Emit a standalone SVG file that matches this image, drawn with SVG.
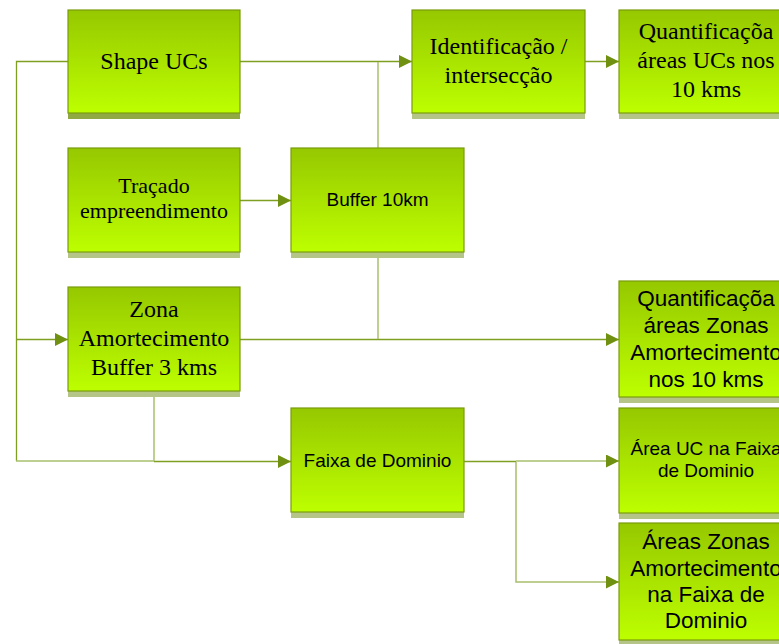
<svg xmlns="http://www.w3.org/2000/svg" width="779" height="644" viewBox="0 0 779 644">
<defs>
<linearGradient id="g" x1="0" y1="0" x2="0" y2="1">
<stop offset="0" stop-color="#96c800"/>
<stop offset="1" stop-color="#bdff00"/>
</linearGradient>
<marker id="ar" viewBox="0 0 13 13" refX="13" refY="6.5" markerWidth="13" markerHeight="13" markerUnits="userSpaceOnUse" orient="auto">
<path d="M0,0 L13,6.5 L0,13 z" fill="#6f9010"/>
</marker>
</defs>
<style>
.box{fill:url(#g);stroke:#7a9c0c;stroke-width:1.2}
.sh{fill:#b4c587}
.shd{fill:#90a942}
.ln{fill:none;stroke:#7f9f22;stroke-width:1.3}
.lt{fill:none;stroke:#a9bf6e;stroke-width:1.5}
.se{font-family:"Liberation Serif","Times New Roman",serif;fill:#000;text-anchor:middle}
.sa{font-family:"Liberation Sans",Arial,sans-serif;fill:#000;text-anchor:middle}
</style>
<rect width="779" height="644" fill="#fff"/>
<g id="connectors">
<path class="ln" d="M68,61.5 H16.5 V461"/>
<path class="lt" d="M16,461 H154"/>
<path class="ln" d="M154,461.5 H291" marker-end="url(#ar)"/>
<path class="ln" d="M16.5,339.5 H68" marker-end="url(#ar)"/>
<path class="ln" d="M240,61.5 H412" marker-end="url(#ar)"/>
<path class="lt" d="M378,148 V62"/>
<path class="ln" d="M585,61.5 H619" marker-end="url(#ar)"/>
<path class="ln" d="M240,200.5 H291" marker-end="url(#ar)"/>
<path class="ln" d="M240,339.5 H619" marker-end="url(#ar)"/>
<path class="lt" d="M378,258 V339"/>
<path class="lt" d="M154,397 V461"/>
<path class="ln" d="M464,461.5 H516"/>
<path class="lt" d="M516,461 H619" marker-end="url(#ar)"/>
<path class="lt" d="M516,462 V582 H619" marker-end="url(#ar)"/>
</g>
<g id="shape-ucs">
<rect class="shd" x="68" y="113" width="172" height="6"/>
<rect class="box" x="68" y="10" width="172" height="103"/>
<text class="se" x="154" y="69" font-size="24">Shape UCs</text>
</g>
<g id="identificacao">
<rect class="sh" x="412" y="113" width="173" height="6"/>
<rect class="box" x="412" y="10" width="173" height="103"/>
<text class="se" x="498.5" y="54" font-size="24">Identificação /</text>
<text class="se" x="498.5" y="83" font-size="24">intersecção</text>
</g>
<g id="quant-ucs">
<rect class="sh" x="619" y="113" width="172" height="6"/>
<rect class="box" x="619" y="10" width="172" height="103"/>
<text class="se" x="706" y="39" font-size="24">Quantificaçõa</text>
<text class="se" x="706" y="68" font-size="24">áreas UCs nos</text>
<text class="se" x="706" y="97" font-size="24">10 kms</text>
</g>
<g id="tracado">
<rect class="sh" x="68" y="252" width="172" height="6"/>
<rect class="box" x="68" y="148" width="172" height="104"/>
<text class="se" x="154" y="193" font-size="22">Traçado</text>
<text class="se" x="154" y="218" font-size="22">empreendimento</text>
</g>
<g id="buffer10">
<rect class="sh" x="291" y="252" width="173" height="6"/>
<rect class="box" x="291" y="148" width="173" height="104"/>
<text class="sa" x="377.5" y="206" font-size="19">Buffer 10km</text>
</g>
<g id="zona">
<rect class="sh" x="68" y="391" width="172" height="6"/>
<rect class="box" x="68" y="287" width="172" height="104"/>
<text class="se" x="154" y="317" font-size="24">Zona</text>
<text class="se" x="154" y="346" font-size="24">Amortecimento</text>
<text class="se" x="154" y="375" font-size="24">Buffer 3 kms</text>
</g>
<g id="quant-zonas">
<rect class="sh" x="619" y="397" width="172" height="6"/>
<rect class="box" x="619" y="281" width="172" height="116"/>
<text class="sa" x="706" y="306" font-size="22.5">Quantificaçõa</text>
<text class="sa" x="706" y="333" font-size="22.5">áreas Zonas</text>
<text class="sa" x="706" y="360" font-size="22.5">Amortecimento</text>
<text class="sa" x="706" y="387" font-size="22.5">nos 10 kms</text>
</g>
<g id="faixa">
<rect class="sh" x="291" y="512" width="173" height="6"/>
<rect class="box" x="291" y="408" width="173" height="104"/>
<text class="sa" x="377.5" y="467" font-size="19">Faixa de Dominio</text>
</g>
<g id="area-uc">
<rect class="sh" x="619" y="513" width="172" height="6"/>
<rect class="box" x="619" y="408" width="172" height="105"/>
<text class="sa" x="706" y="455" font-size="19">Área UC na Faixa</text>
<text class="sa" x="706" y="477" font-size="19">de Dominio</text>
</g>
<g id="areas-zonas">
<rect class="sh" x="619" y="640" width="172" height="6"/>
<rect class="box" x="619" y="523" width="172" height="117"/>
<text class="sa" x="706" y="549" font-size="22.5">Áreas Zonas</text>
<text class="sa" x="706" y="576" font-size="22.5">Amortecimento</text>
<text class="sa" x="706" y="602" font-size="22.5">na Faixa de</text>
<text class="sa" x="706" y="628" font-size="22.5">Dominio</text>
</g>
</svg>
